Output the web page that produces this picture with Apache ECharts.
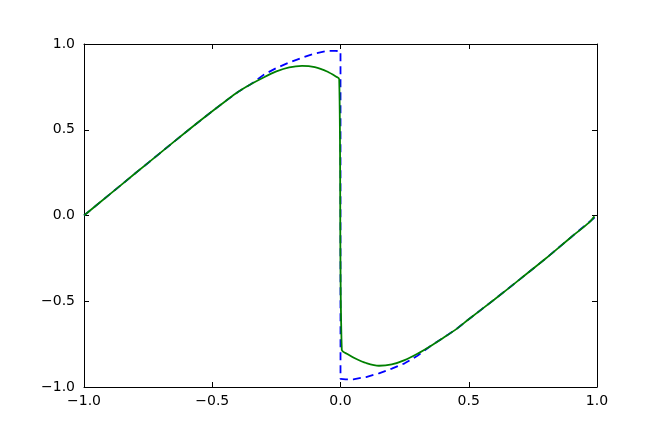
<!DOCTYPE html>
<html>
<head>
<meta charset="utf-8">
<script src="https://cdn.jsdelivr.net/npm/echarts@6/dist/echarts.min.js"></script>
<style>
  html, body { margin: 0; padding: 0; background: #fff; }
  #chart { width: 664px; height: 443px; }
</style>
</head>
<body>
<div id="chart"></div>
<script>
// target curve (blue dashed)
const targetX = [-1, -0.9, -0.8, -0.7, -0.6, -0.5, -0.45, -0.4, -0.35, -0.3, -0.25, -0.2, -0.15, -0.1, -0.05, -0.02, 0,
  0, 0.02, 0.05, 0.1, 0.15, 0.2, 0.25, 0.3, 0.35, 0.4, 0.45, 0.5, 0.6, 0.7, 0.8, 0.9, 1]
const targetY = [0, 0.123, 0.246, 0.368, 0.49, 0.608, 0.665, 0.72, 0.765, 0.82, 0.86, 0.892, 0.92, 0.945, 0.96, 0.96, 0.958,
  -0.953, -0.955, -0.955, -0.942, -0.92, -0.893, -0.862, -0.818, -0.762, -0.714, -0.664, -0.605, -0.49, -0.371, -0.251, -0.125, 0]

// fitted curve (green solid)
const fitX = [-1, -0.9, -0.8, -0.7, -0.6, -0.5, -0.45, -0.4, -0.35, -0.3, -0.25, -0.2, -0.15, -0.1, -0.05, -0.02, -0.005,
  0.005, 0.03, 0.06, 0.1, 0.15, 0.2, 0.25, 0.3, 0.35, 0.4, 0.45, 0.5, 0.6, 0.7, 0.8, 0.9, 0.97, 0.99]
const fitY = [0, 0.123, 0.246, 0.368, 0.49, 0.608, 0.665, 0.72, 0.765, 0.805, 0.84, 0.864, 0.873, 0.865, 0.838, 0.812, 0.795,
  -0.783, -0.81, -0.835, -0.86, -0.876, -0.868, -0.843, -0.806, -0.762, -0.714, -0.664, -0.605, -0.49, -0.371, -0.251, -0.125, -0.04, -0.005]

const fmt = (v) => v.toFixed(1).replace('-', '\u2212')

const labelStyle = {
  fontFamily: 'DejaVu Sans',
  fontSize: 14,
  color: '#000',
}

const baseAxis = (extra) => Object.assign({
  type: 'value',
  min: -1,
  max: 1,
  interval: 0.5,
  axisLine: { show: true, onZero: false, lineStyle: { color: '#000', width: 1 } },
  axisTick: { show: true, inside: true, length: 5, lineStyle: { color: '#000', width: 1 } },
  splitLine: { show: false },
}, extra)

const chart = echarts.init(document.getElementById('chart'))
chart.setOption({
  backgroundColor: '#fff',
  animation: false,
  grid: { left: 84, right: 67, top: 44, bottom: 56 },
  xAxis: [
    baseAxis({ position: 'bottom', axisLabel: Object.assign({ margin: 7, formatter: fmt }, labelStyle) }),
    baseAxis({ position: 'top', axisLabel: { show: false } }),
  ],
  yAxis: [
    baseAxis({ position: 'left', axisLabel: Object.assign({ margin: 9, formatter: fmt }, labelStyle) }),
    baseAxis({ position: 'right', axisLabel: { show: false } }),
  ],
  series: [
    {
      name: 'target',
      type: 'line',
      symbol: 'none',
      smooth: false,
      lineStyle: { color: '#0000ff', width: 1.8, type: [8, 5] },
      data: targetX.map((x, i) => [x, targetY[i]]),
    },
    {
      name: 'fit',
      type: 'line',
      symbol: 'none',
      smooth: 0.3,
      lineStyle: { color: '#008000', width: 1.8 },
      data: fitX.map((x, i) => [x, fitY[i]]),
    },
  ],
})
</script>
</body>
</html>
